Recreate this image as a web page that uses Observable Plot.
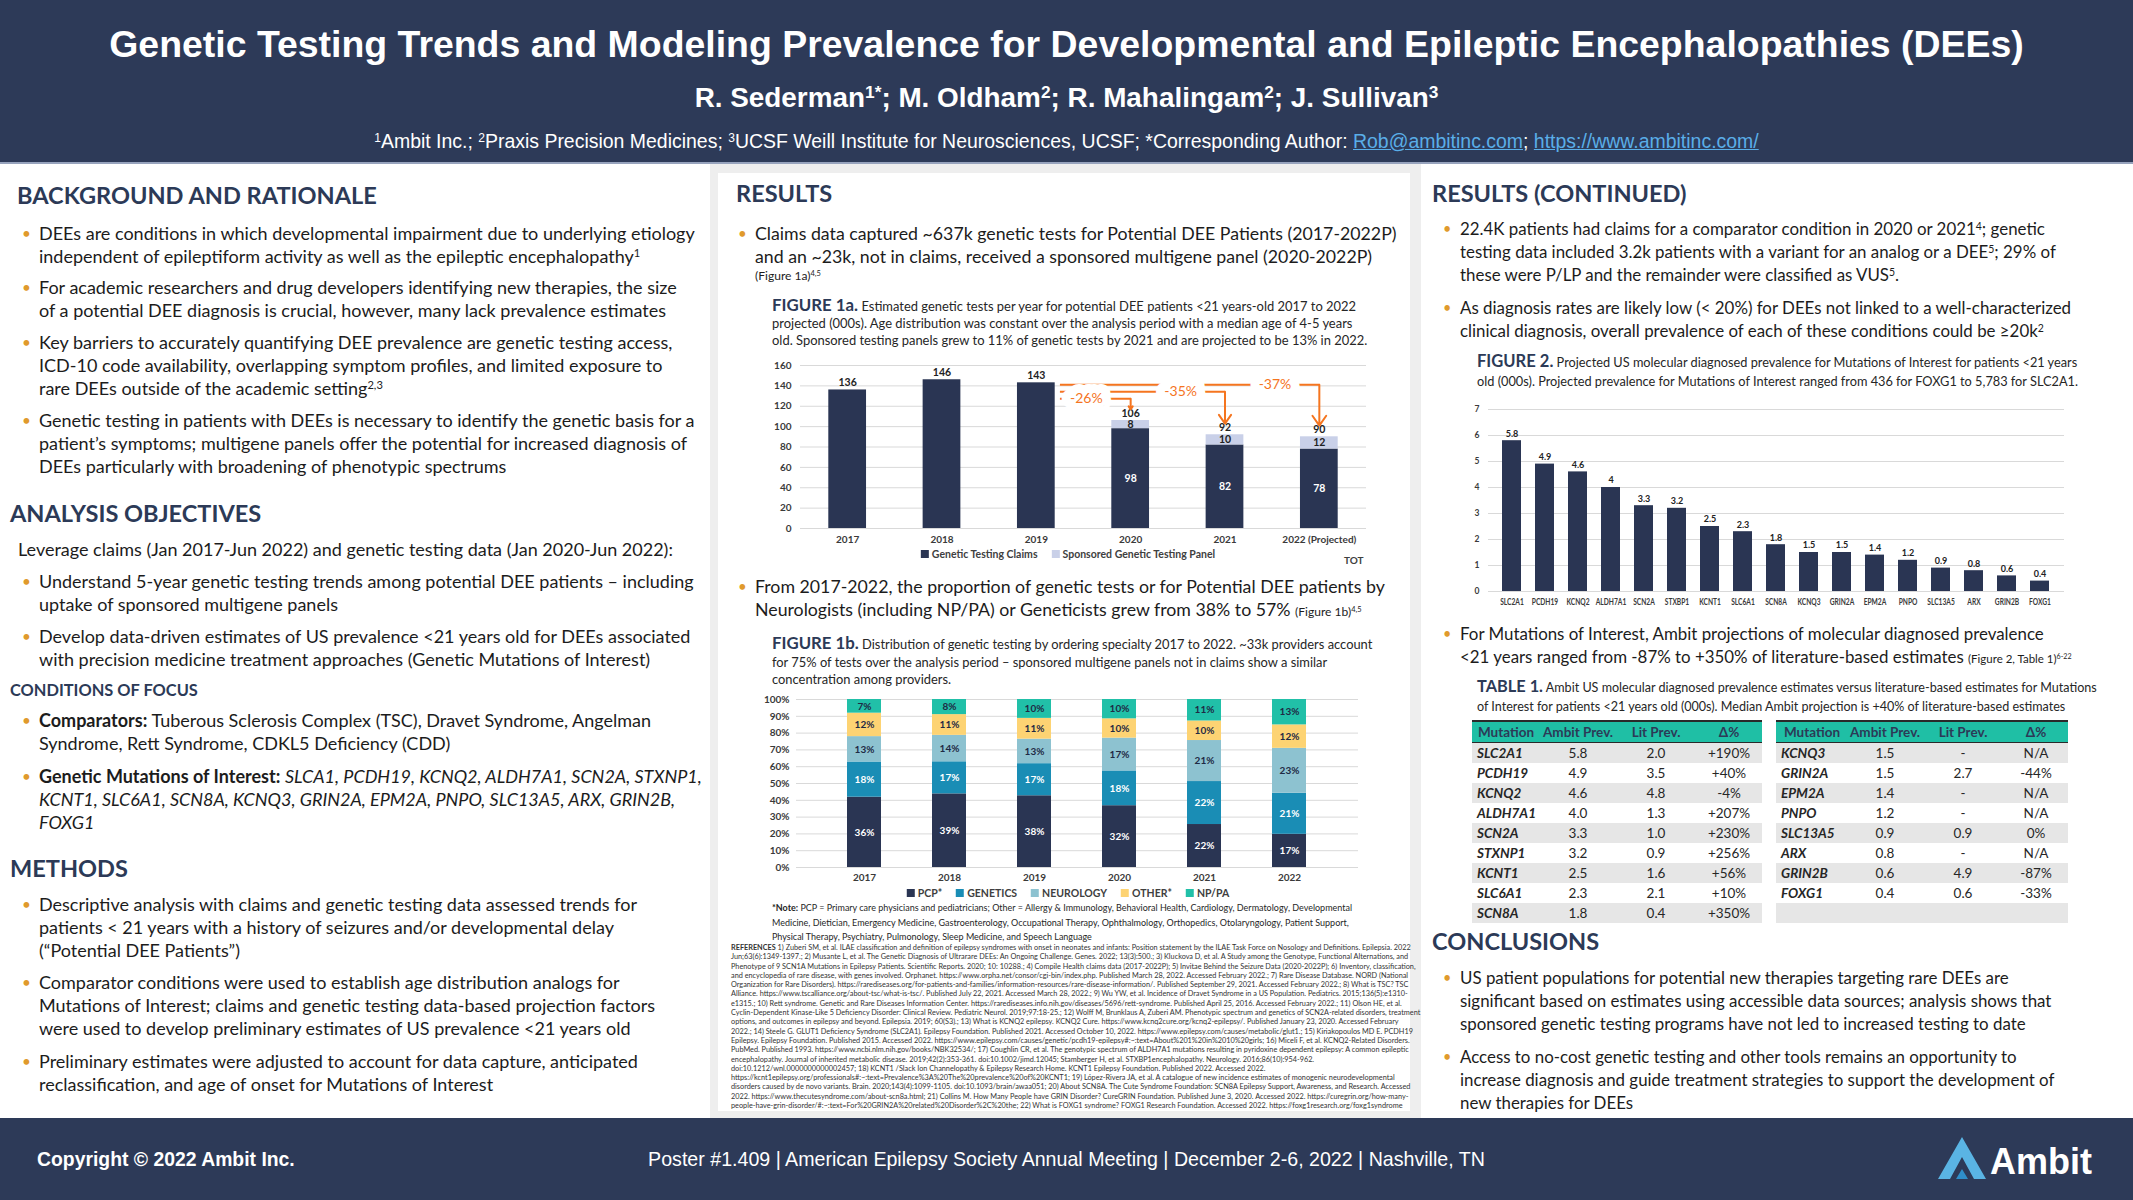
<!DOCTYPE html>
<html><head><meta charset="utf-8">
<script src="https://cdn.jsdelivr.net/npm/d3@7"></script>
<script src="https://cdn.jsdelivr.net/npm/@observablehq/plot@0.6"></script>
<style>
html,body{margin:0;padding:0;background:#fff;}
#poster{position:relative;width:2133px;height:1200px;overflow:hidden;background:#fff;font-family:Lato,"Open Sans",sans-serif;color:#1c1c1c;}
.abs{position:absolute;white-space:nowrap;}
#header{position:absolute;left:0;top:0;width:2133px;height:162px;background:#2d3a58;border-bottom:2px solid #97a3bd;}
#footer{position:absolute;left:0;top:1118px;width:2133px;height:82px;background:#2d3a58;}
.center{position:absolute;left:0;width:2133px;text-align:center;white-space:nowrap;color:#fff;font-family:"Liberation Sans",Arial,sans-serif;}
#title{font-weight:700;font-size:34px;}
#authors{font-weight:700;font-size:24px;}
#affil{font-size:19px;}
#affil a{color:#5aaee8;text-decoration:underline;}
sup{font-size:0.62em;line-height:0;vertical-align:0.5em;}
#midpanel{position:absolute;left:710px;top:164px;width:711px;height:954px;background:#eeeeee;}
#midcard{position:absolute;left:718px;top:173px;width:692px;height:938px;background:#fff;}
.hd{position:absolute;white-space:nowrap;color:#2c3a57;font-weight:700;line-height:30px;}
.hd2{position:absolute;white-space:nowrap;color:#2c3a57;font-weight:700;line-height:22px;font-size:17px;}
.b{position:absolute;white-space:nowrap;line-height:23px;padding-left:17px;}
.b::before{content:"\2022";position:absolute;left:0;top:0;color:#e09a2c;font-size:0.85em;}
.p{position:absolute;white-space:nowrap;line-height:23px;}
.sm{font-size:0.68em;}
.cap{position:absolute;white-space:nowrap;color:#262626;font-size:13px;}
.cap .fig{color:#2c3a57;font-weight:700;font-size:1.3em;}
.legend{position:absolute;display:flex;gap:14px;transform:translateX(-50%);white-space:nowrap;font-weight:700;font-size:10.5px;color:#404040;align-items:center;}
.legend .sw{display:inline-block;width:8px;height:8px;margin-right:3px;vertical-align:-0px;}
#refs{position:absolute;left:731px;top:943px;white-space:nowrap;line-height:9.3px;font-size:7px;color:#333;}
.tbl{position:absolute;top:720px;border-collapse:collapse;font-size:13.5px;table-layout:fixed;}
.tbl th{background:#1fbfa5;color:#2c3a57;font-weight:700;height:20px;padding:0;border-top:2.5px solid #2a2a2a;border-bottom:1.5px solid #2a2a2a;text-align:center;line-height:16px;}
.tbl td{height:20px;padding:0;text-align:center;line-height:20px;color:#262626;}
.tbl td.m{text-align:left;padding-left:5px;font-weight:700;font-style:italic;}
.tbl tbody tr:nth-child(odd) td{background:#e6e6e6;}
.chart{position:absolute;}
</style></head>
<body>
<div id="poster">
  <div id="header"></div>
  <div class="center" style="top:22px;line-height:44px;"><span id="title" data-fit="1915">Genetic Testing Trends and Modeling Prevalence for Developmental and Epileptic Encephalopathies (DEEs)</span></div>
  <div class="center" style="top:83px;line-height:30px;"><span id="authors" data-fit="744">R. Sederman<sup>1*</sup>; M. Oldham<sup>2</sup>; R. Mahalingam<sup>2</sup>; J. Sullivan<sup>3</sup></span></div>
  <div class="center" style="top:128px;line-height:26px;"><span id="affil" data-fit="1385"><sup>1</sup>Ambit Inc.; <sup>2</sup>Praxis Precision Medicines; <sup>3</sup>UCSF Weill Institute for Neurosciences, UCSF; *Corresponding Author: <a>Rob@ambitinc.com</a>; <a>https://www.ambitinc.com/</a></span></div>

  <div id="midpanel"></div>
  <div id="midcard"></div>

  <!-- headings -->
  <div id="hdbox" style="font-size:24px;">
    <div class="hd" style="left:17px;top:180px;"><span data-fit="360" data-box="hdbox">BACKGROUND AND RATIONALE</span></div>
    <div class="hd" style="left:10px;top:498px;">ANALYSIS OBJECTIVES</div>
    <div class="hd" style="left:10px;top:853px;">METHODS</div>
    <div class="hd" style="left:736px;top:178px;">RESULTS</div>
    <div class="hd" style="left:1432px;top:178px;">RESULTS (CONTINUED)</div>
    <div class="hd" style="left:1432px;top:926px;">CONCLUSIONS</div>
  </div>
  <div class="hd2" style="left:10px;top:679px;"><span id="cof" data-fit="188">CONDITIONS OF FOCUS</span></div>

  <!-- left column -->
  <div id="colL" style="font-size:17px;">
    <div class="b" style="left:22px;top:222px;"><span data-fit="656" data-box="colL">DEEs are conditions in which developmental impairment due to underlying etiology</span><br>independent of epileptiform activity as well as the epileptic encephalopathy<sup>1</sup></div>
    <div class="b" style="left:22px;top:276px;">For academic researchers and drug developers identifying new therapies, the size<br>of a potential DEE diagnosis is crucial, however, many lack prevalence estimates</div>
    <div class="b" style="left:22px;top:331px;">Key barriers to accurately quantifying DEE prevalence are genetic testing access,<br>ICD-10 code availability, overlapping symptom profiles, and limited exposure to<br>rare DEEs outside of the academic setting<sup>2,3</sup></div>
    <div class="b" style="left:22px;top:409px;">Genetic testing in patients with DEEs is necessary to identify the genetic basis for a<br>patient’s symptoms; multigene panels offer the potential for increased diagnosis of<br>DEEs particularly with broadening of phenotypic spectrums</div>
    <div class="p" style="left:18px;top:538px;">Leverage claims (Jan 2017-Jun 2022) and genetic testing data (Jan 2020-Jun 2022):</div>
    <div class="b" style="left:22px;top:570px;">Understand 5-year genetic testing trends among potential DEE patients – including<br>uptake of sponsored multigene panels</div>
    <div class="b" style="left:22px;top:625px;">Develop data-driven estimates of US prevalence &lt;21 years old for DEEs associated<br>with precision medicine treatment approaches (Genetic Mutations of Interest)</div>
    <div class="b" style="left:22px;top:709px;"><b>Comparators:</b> Tuberous Sclerosis Complex (TSC), Dravet Syndrome, Angelman<br>Syndrome, Rett Syndrome, CDKL5 Deficiency (CDD)</div>
    <div class="b" style="left:22px;top:765px;"><b>Genetic Mutations of Interest:</b> <i>SLCA1, PCDH19, KCNQ2, ALDH7A1, SCN2A, STXNP1,</i><br><i>KCNT1, SLC6A1, SCN8A, KCNQ3, GRIN2A, EPM2A, PNPO, SLC13A5, ARX, GRIN2B,</i><br><i>FOXG1</i></div>
    <div class="b" style="left:22px;top:893px;">Descriptive analysis with claims and genetic testing data assessed trends for<br>patients &lt; 21 years with a history of seizures and/or developmental delay<br>(“Potential DEE Patients”)</div>
    <div class="b" style="left:22px;top:971px;">Comparator conditions were used to establish age distribution analogs for<br>Mutations of Interest; claims and genetic testing data-based projection factors<br>were used to develop preliminary estimates of US prevalence &lt;21 years old</div>
    <div class="b" style="left:22px;top:1050px;">Preliminary estimates were adjusted to account for data capture, anticipated<br>reclassification, and age of onset for Mutations of Interest</div>
  </div>

  <!-- middle column -->
  <div id="colM" style="font-size:17px;">
    <div class="b" style="left:738px;top:222px;"><span data-fit="642" data-box="colM">Claims data captured ~637k genetic tests for Potential DEE Patients (2017-2022P)</span><br>and an ~23k, not in claims, received a sponsored multigene panel (2020-2022P)</div>
    <div class="p" style="left:755px;top:263px;line-height:20px;"><span class="sm">(Figure 1a)<sup>4,5</sup></span></div>
    <div class="b" style="left:738px;top:575px;">From 2017-2022, the proportion of genetic tests or for Potential DEE patients by<br>Neurologists (including NP/PA) or Geneticists grew from 38% to 57% <span class="sm">(Figure 1b)<sup>4,5</sup></span></div>
  </div>
  <div id="cap1a" class="cap" style="left:772px;top:296px;line-height:17px;"><span class="fig">FIGURE 1a.</span> Estimated genetic tests per year for potential DEE patients &lt;21 years-old 2017 to 2022<br><span data-fit="581" data-box="cap1a">projected (000s). Age distribution was constant over the analysis period with a median age of 4-5 years</span><br>old. Sponsored testing panels grew to 11% of genetic tests by 2021 and are projected to be 13% in 2022.</div>
  <div id="chart1a" class="chart" style="left:770px;top:355px;"></div>
  <div id="leg1a" class="legend" style="left:1068px;top:548px;"></div>
  <div class="abs" style="left:1344px;top:554px;font-size:10px;font-weight:700;color:#404040;">TOT</div>

  <div id="cap1b" class="cap" style="left:772px;top:634px;line-height:17.5px;"><span class="fig">FIGURE 1b.</span> Distribution of genetic testing by ordering specialty 2017 to 2022. ~33k providers account<br><span data-fit="556" data-box="cap1b">for 75% of tests over the analysis period – sponsored multigene panels not in claims show a similar</span><br>concentration among providers.</div>
  <div id="chart1b" class="chart" style="left:766px;top:691px;"></div>
  <div id="leg1b" class="legend" style="left:1068px;top:887px;"></div>
  <div id="note1b" class="cap" style="left:772px;top:901px;line-height:14.5px;font-size:11px;"><span data-fit="581" data-box="note1b"><b>*Note:</b> PCP = Primary care physicians and pediatricians; Other = Allergy &amp; Immunology, Behavioral Health, Cardiology, Dermatology, Developmental</span><br>Medicine, Dietician, Emergency Medicine, Gastroenterology, Occupational Therapy, Ophthalmology, Orthopedics, Otolaryngology, Patient Support,<br>Physical Therapy, Psychiatry, Pulmonology, Sleep Medicine, and Speech Language</div>

  <div id="refs"><span data-fit="680" data-box="refs"><b>REFERENCES</b> 1) Zuberi SM, et al. ILAE classification and definition of epilepsy syndromes with onset in neonates and infants: Position statement by the ILAE Task Force on Nosology and Definitions. Epilepsia. 2022</span><br>Jun;63(6):1349-1397.; 2) Musante L, et al. The Genetic Diagnosis of Ultrarare DEEs: An Ongoing Challenge. Genes. 2022; 13(3):500.; 3) Kluckova D, et al. A Study among the Genotype, Functional Alternations, and<br>Phenotype of 9 SCN1A Mutations in Epilepsy Patients. Scientific Reports. 2020; 10: 10288.; 4) Compile Health claims data (2017-2022P); 5) Invitae Behind the Seizure Data (2020-2022P); 6) Inventory, classification,<br>and encyclopedia of rare disease, with genes involved. Orphanet. https://www.orpha.net/consor/cgi-bin/index.php. Published March 28, 2022. Accessed February 2022.; 7) Rare Disease Database. NORD (National<br>Organization for Rare Disorders). https://rarediseases.org/for-patients-and-families/information-resources/rare-disease-information/. Published September 29, 2021. Accessed February 2022.; 8) What is TSC? TSC<br>Alliance. https://www.tscalliance.org/about-tsc/what-is-tsc/. Published July 22, 2021. Accessed March 28, 2022.; 9) Wu YW, et al. Incidence of Dravet Syndrome in a US Population. Pediatrics. 2015;136(5):e1310-<br>e1315.; 10) Rett syndrome. Genetic and Rare Diseases Information Center. https://rarediseases.info.nih.gov/diseases/5696/rett-syndrome. Published April 25, 2016. Accessed February 2022.; 11) Olson HE, et al.<br>Cyclin-Dependent Kinase-Like 5 Deficiency Disorder: Clinical Review. Pediatric Neurol. 2019;97:18-25.; 12) Wolff M, Brunklaus A, Zuberi AM. Phenotypic spectrum and genetics of SCN2A-related disorders, treatment<br>options, and outcomes in epilepsy and beyond. Epilepsia. 2019; 60(S3).; 13) What is KCNQ2 epilepsy. KCNQ2 Cure. https://www.kcnq2cure.org/kcnq2-epilepsy/. Published January 23, 2020. Accessed February<br>2022.; 14) Steele G. GLUT1 Deficiency Syndrome (SLC2A1). Epilepsy Foundation. Published 2021. Accessed October 10, 2022. https://www.epilepsy.com/causes/metabolic/glut1.; 15) Kiriakopoulos MD E. PCDH19<br>Epilepsy. Epilepsy Foundation. Published 2015. Accessed 2022. https://www.epilepsy.com/causes/genetic/pcdh19-epilepsy#:~:text=About%201%20in%2010%20girls; 16) Miceli F, et al. KCNQ2-Related Disorders.<br>PubMed. Published 1993. https://www.ncbi.nlm.nih.gov/books/NBK32534/; 17) Coughlin CR, et al. The genotypic spectrum of ALDH7A1 mutations resulting in pyridoxine dependent epilepsy: A common epileptic<br>encephalopathy. Journal of inherited metabolic disease. 2019;42(2):353-361. doi:10.1002/jimd.12045; Stamberger H, et al. STXBP1encephalopathy. Neurology. 2016;86(10):954-962.<br>doi:10.1212/wnl.0000000000002457; 18) KCNT1 /Slack Ion Channelopathy &amp; Epilepsy Research Home. KCNT1 Epilepsy Foundation. Published 2022. Accessed 2022.<br>https://kcnt1epilepsy.org/professionals#:~:text=Prevalence%3A%20The%20prevalence%20of%20KCNT1; 19) López-Rivera JA, et al. A catalogue of new incidence estimates of monogenic neurodevelopmental<br>disorders caused by de novo variants. Brain. 2020;143(4):1099-1105. doi:10.1093/brain/awaa051; 20) About SCN8A. The Cute Syndrome Foundation: SCN8A Epilepsy Support, Awareness, and Research. Accessed<br>2022. https://www.thecutesyndrome.com/about-scn8a.html; 21) Collins M. How Many People have GRIN Disorder? CureGRIN Foundation. Published June 3, 2020. Accessed 2022. https://curegrin.org/how-many-<br>people-have-grin-disorder/#:~:text=For%20GRIN2A%20related%20Disorder%2C%20the; 22) What is FOXG1 syndrome? FOXG1 Research Foundation. Accessed 2022. https://foxg1research.org/foxg1syndrome</div>

  <!-- right column -->
  <div id="colR" style="font-size:17px;">
    <div class="b" style="left:1443px;top:217px;">22.4K patients had claims for a comparator condition in 2020 or 2021<sup>4</sup>; genetic<br>testing data included 3.2k patients with a variant for an analog or a DEE<sup>5</sup>; 29% of<br>these were P/LP and the remainder were classified as VUS<sup>5</sup>.</div>
    <div class="b" style="left:1443px;top:296px;"><span data-fit="612" data-box="colR">As diagnosis rates are likely low (&lt; 20%) for DEEs not linked to a well-characterized</span><br>clinical diagnosis, overall prevalence of each of these conditions could be ≥20k<sup>2</sup></div>
    <div class="b" style="left:1443px;top:622px;">For Mutations of Interest, Ambit projections of molecular diagnosed prevalence<br>&lt;21 years ranged from -87% to +350% of literature-based estimates <span class="sm">(Figure 2, Table 1)<sup>6-22</sup></span></div>
    <div class="b" style="left:1443px;top:966px;">US patient populations for potential new therapies targeting rare DEEs are<br>significant based on estimates using accessible data sources; analysis shows that<br>sponsored genetic testing programs have not led to increased testing to date</div>
    <div class="b" style="left:1443px;top:1045px;">Access to no-cost genetic testing and other tools remains an opportunity to<br>increase diagnosis and guide treatment strategies to support the development of<br>new therapies for DEEs</div>
  </div>
  <div id="cap2" class="cap" style="left:1477px;top:352px;line-height:19px;"><span class="fig">FIGURE 2.</span> Projected US molecular diagnosed prevalence for Mutations of Interest for patients &lt;21 years<br><span data-fit="601" data-box="cap2">old (000s). Projected prevalence for Mutations of Interest ranged from 436 for FOXG1 to 5,783 for SLC2A1.</span></div>
  <div id="chart2" class="chart" style="left:1466px;top:401px;"></div>
  <div id="captab" class="cap" style="left:1477px;top:676px;line-height:19px;"><span class="fig">TABLE 1.</span> Ambit US molecular diagnosed prevalence estimates versus literature-based estimates for Mutations<br><span data-fit="589" data-box="captab">of Interest for patients &lt;21 years old (000s). Median Ambit projection is +40% of literature-based estimates</span></div>
  <div id="tables"></div>

  <div id="footer"></div>
  <div class="abs" style="left:37px;top:1146px;line-height:26px;color:#fff;font-family:'Liberation Sans',Arial,sans-serif;font-weight:700;font-size:19px;"><span data-fit="258">Copyright © 2022 Ambit Inc.</span></div>
  <div class="center" style="top:1146px;line-height:26px;"><span data-fit="837" style="font-size:19px;">Poster #1.409 | American Epilepsy Society Annual Meeting | December 2-6, 2022 | Nashville, TN</span></div>
  <svg class="abs" style="left:1936px;top:1133px;" width="175" height="52" viewBox="0 0 175 52">
    <polygon points="2,46 26,4 50,46 38,46 26,24 14,46" fill="#5ab4e4"/>
    <polygon points="20,46 26,36 32,46" fill="#2f8ec9"/>
    <text x="54" y="41" fill="#fff" font-family="Liberation Sans, Arial, sans-serif" font-weight="700" font-size="36">Ambit</text>
  </svg>
</div>

<script>
// ---------------- DATA ----------------
const years1a = ["2017", "2018", "2019", "2020", "2021", "2022 (Projected)"];
const claims1a = [136, 146, 143, 98, 82, 78];
const sponsored1a = [0, 0, 0, 8, 10, 12];
const totals1a = [136, 146, 143, 106, 92, 90];
const series1a = ["Genetic Testing Claims", "Sponsored Genetic Testing Panel"];
const dropFrom1a = "2019";
const dropTo1a = ["2020", "2021", "2022 (Projected)"];
const dropLabels1a = ["-26%", "-35%", "-37%"];

const years1b = ["2017", "2018", "2019", "2020", "2021", "2022"];
const specialties1b = ["PCP*", "GENETICS", "NEUROLOGY", "OTHER*", "NP/PA"];
const pcp1b = [36, 39, 38, 32, 22, 17];
const genetics1b = [18, 17, 17, 18, 22, 21];
const neurology1b = [13, 14, 13, 17, 21, 23];
const other1b = [12, 11, 11, 10, 10, 12];
const nppa1b = [7, 8, 10, 10, 11, 13];

const mutations2 = ["SLC2A1", "PCDH19", "KCNQ2", "ALDH7A1", "SCN2A", "STXBP1", "KCNT1", "SLC6A1", "SCN8A", "KCNQ3", "GRIN2A", "EPM2A", "PNPO", "SLC13A5", "ARX", "GRIN2B", "FOXG1"];
const prevalence2 = [5.8, 4.9, 4.6, 4, 3.3, 3.2, 2.5, 2.3, 1.8, 1.5, 1.5, 1.4, 1.2, 0.9, 0.8, 0.6, 0.4];

const tableColumns = ["Mutation", "Ambit Prev.", "Lit Prev.", "Δ%"];
const tableMutations = ["SLC2A1", "PCDH19", "KCNQ2", "ALDH7A1", "SCN2A", "STXNP1", "KCNT1", "SLC6A1", "SCN8A", "KCNQ3", "GRIN2A", "EPM2A", "PNPO", "SLC13A5", "ARX", "GRIN2B", "FOXG1"];
const tableAmbit = ["5.8", "4.9", "4.6", "4.0", "3.3", "3.2", "2.5", "2.3", "1.8", "1.5", "1.5", "1.4", "1.2", "0.9", "0.8", "0.6", "0.4"];
const tableLit = ["2.0", "3.5", "4.8", "1.3", "1.0", "0.9", "1.6", "2.1", "0.4", "-", "2.7", "-", "-", "0.9", "-", "4.9", "0.6"];
const tableDelta = ["+190%", "+40%", "-4%", "+207%", "+230%", "+256%", "+56%", "+10%", "+350%", "N/A", "-44%", "N/A", "N/A", "0%", "N/A", "-87%", "-33%"];

// ---------------- STYLE ----------------
const NAVY = "#2a3553", LAV = "#c9d0e8", ORANGE = "#f5751f", GRID = "#d9d9d9";
const colors1b = ["#2a3553", "#1a8db5", "#8dc2d0", "#fdd373", "#21c0a8"];
const lightText1b = new Set(["PCP*", "GENETICS"]);
const chartStyle = {fontFamily: "Lato, sans-serif", fontSize: "10px", fontWeight: 700, color: "#3a3a3a", background: "transparent", overflow: "visible"};

// compress tick labels horizontally (condensed look)
function condense(svg, labels, factor) {
  const set = new Set(labels.map(String));
  svg.querySelectorAll("text").forEach(t => {
    if (set.has(t.textContent)) {
      const w = t.getComputedTextLength();
      t.setAttribute("textLength", (w * factor).toFixed(2));
      t.setAttribute("lengthAdjust", "spacingAndGlyphs");
    }
  });
}

// ---------------- FIGURE 1a ----------------
const d1a = years1a.map((y, i) => ({i, year: y, claims: claims1a[i], sponsored: sponsored1a[i], total: totals1a[i]}));
const hw = 0.2;
const iFrom = years1a.indexOf(dropFrom1a);
const drops1a = dropTo1a.map((t, k) => {
  const j = years1a.indexOf(t);
  return {j, label: dropLabels1a[k], level: totals1a[iFrom] - 2 - (dropTo1a.length - 1 - k) * 6.8, end: totals1a[j] + 11};
});
const stacked1a = d1a.filter(d => d.sponsored > 0);
const p1a = Plot.plot({
  width: 610, height: 193, marginLeft: 30, marginRight: 14, marginTop: 10, marginBottom: 20,
  style: chartStyle,
  x: {domain: [-0.5, years1a.length - 0.5], ticks: d3.range(years1a.length), tickFormat: i => years1a[i], tickSize: 0, tickPadding: 7, label: null},
  y: {domain: [0, 160], ticks: d3.range(0, 161, 20), tickSize: 0, tickPadding: 9, label: null},
  marks: [
    Plot.ruleY(d3.range(0, 161, 20), {stroke: GRID}),
    Plot.rectY(d1a, {x1: d => d.i - hw, x2: d => d.i + hw, y1: 0, y2: "claims", fill: NAVY}),
    Plot.rectY(stacked1a, {x1: d => d.i - hw, x2: d => d.i + hw, y1: "claims", y2: d => d.claims + d.sponsored, fill: LAV}),
    Plot.text(d1a, {x: "i", y: "total", text: d => String(d.total), dy: -7, fill: "#222", fontSize: 10.5}),
    Plot.text(stacked1a, {x: "i", y: d => d.claims / 2, text: d => String(d.claims), fill: "white", fontSize: 10.5}),
    Plot.text(stacked1a, {x: "i", y: d => d.claims + d.sponsored / 2, text: d => String(d.sponsored), fill: "#222", fontSize: 10.5}),
    Plot.link(drops1a, {x1: iFrom + 0.25, x2: "j", y1: "level", y2: "level", stroke: ORANGE, strokeWidth: 2}),
    Plot.arrow(drops1a, {x1: "j", x2: "j", y1: "level", y2: "end", stroke: ORANGE, strokeWidth: 2, headLength: 9, headAngle: 70}),
    Plot.text(drops1a, {x: d => d.j - 0.47, y: "level", text: "label", fill: "white", stroke: "white", strokeWidth: 18, fontSize: 14, fontWeight: 400}),
    Plot.text(drops1a, {x: d => d.j - 0.47, y: "level", text: "label", fill: ORANGE, fontSize: 14, fontWeight: 400})
  ]
});
document.getElementById("chart1a").append(p1a);
document.getElementById("leg1a").innerHTML = series1a.map((s, k) => `<span><span class="sw" style="background:${[NAVY, LAV][k]}"></span>${s}</span>`).join("");

// ---------------- FIGURE 1b ----------------
const values1b = [pcp1b, genetics1b, neurology1b, other1b, nppa1b];
const d1b = [];
years1b.forEach((y, i) => specialties1b.forEach((s, k) => d1b.push({year: y, spec: s, value: values1b[k][i]})));
const stackOpts = {x: "year", y: "value", z: "spec", order: specialties1b, offset: "normalize"};
const p1b = Plot.plot({
  width: 612, height: 196, marginLeft: 30, marginRight: 20, marginTop: 8, marginBottom: 20,
  style: chartStyle,
  x: {domain: years1b, padding: 0.6, tickSize: 0, tickPadding: 6, label: null},
  y: {domain: [0, 1], ticks: d3.range(0, 11).map(t => t / 10), tickFormat: t => Math.round(t * 100) + "%", tickSize: 0, tickPadding: 7, label: null},
  color: {domain: specialties1b, range: colors1b},
  marks: [
    Plot.ruleY(d3.range(0, 11).map(t => t / 10), {stroke: GRID}),
    Plot.barY(d1b, {...stackOpts, fill: "spec"}),
    Plot.text(d1b, Plot.stackY({...stackOpts, text: d => lightText1b.has(d.spec) ? d.value + "%" : null, fill: "white", fontSize: 10})),
    Plot.text(d1b, Plot.stackY({...stackOpts, text: d => lightText1b.has(d.spec) ? null : d.value + "%", fill: "#1f2a44", fontSize: 10}))
  ]
});
document.getElementById("chart1b").append(p1b);
document.getElementById("leg1b").innerHTML = specialties1b.map((s, k) => `<span><span class="sw" style="background:${colors1b[k]}"></span>${s}</span>`).join("");

// ---------------- FIGURE 2 ----------------
const d2 = mutations2.map((m, i) => ({mutation: m, value: prevalence2[i]}));
const p2 = Plot.plot({
  width: 604, height: 208, marginLeft: 22, marginRight: 6, marginTop: 8, marginBottom: 18,
  style: {...chartStyle, fontSize: "8.5px"},
  x: {domain: mutations2, padding: 0.41, tickSize: 0, tickPadding: 7, label: null},
  y: {domain: [0, 7], ticks: d3.range(0, 8), tickFormat: d3.format("d"), tickSize: 0, tickPadding: 9, label: null},
  marks: [
    Plot.ruleY(d3.range(0, 8), {stroke: GRID}),
    Plot.barY(d2, {x: "mutation", y: "value", fill: NAVY}),
    Plot.text(d2, {x: "mutation", y: "value", text: d => String(d.value), dy: -7, fill: "#222", fontSize: 9})
  ]
});
document.getElementById("chart2").append(p2);
condense(p2, mutations2, 0.78);

// ---------------- TABLE 1 ----------------
function tableHTML(indices, left, widths) {
  let h = `<table class="tbl" style="left:${left}px;width:${d3.sum(widths)}px"><colgroup>${widths.map(w => `<col style="width:${w}px">`).join("")}</colgroup><thead><tr>${tableColumns.map(c => `<th>${c}</th>`).join("")}</tr></thead><tbody>`;
  indices.forEach(i => {
    if (i == null) h += `<tr><td colspan="4">&nbsp;</td></tr>`;
    else h += `<tr><td class="m">${tableMutations[i]}</td><td>${tableAmbit[i]}</td><td>${tableLit[i]}</td><td>${tableDelta[i]}</td></tr>`;
  });
  return h + "</tbody></table>";
}
document.getElementById("tables").innerHTML =
  tableHTML(d3.range(0, 9), 1472, [68, 76, 80, 66]) +
  tableHTML([...d3.range(9, 17), null], 1776, [72, 74, 82, 64]);

// ---------------- text fitting ----------------
document.querySelectorAll("[data-fit]").forEach(el => {
  const target = +el.dataset.fit;
  const box = el.dataset.box ? document.getElementById(el.dataset.box) : el;
  const fs = parseFloat(getComputedStyle(box).fontSize);
  const w = el.getBoundingClientRect().width;
  if (w > 0) box.style.fontSize = (fs * target / w) + "px";
});
</script>
</body></html>
